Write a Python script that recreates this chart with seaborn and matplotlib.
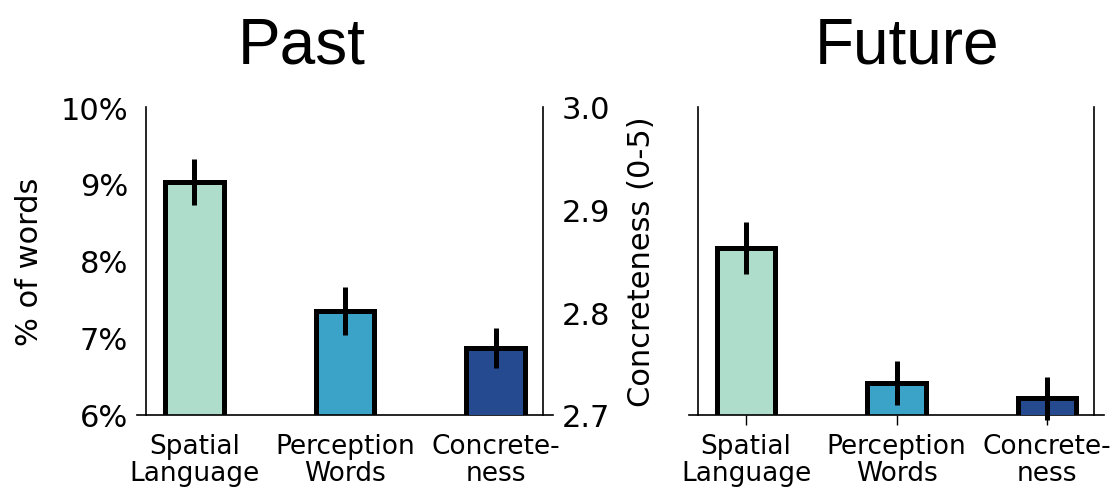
import matplotlib
matplotlib.use("Agg")
import matplotlib.pyplot as plt
import seaborn as sns
import pandas as pd

# Word-category measures for past- and future-oriented texts
categories = ["Spatial", "Perception", "Concreteness"]
tick_labels = ["Spatial\nLanguage", "Perception\nWords", "Concrete-\nness"]
panel_titles = ["Past", "Future"]

past_values = [9.02, 7.35, 2.765]
past_errors = [0.30, 0.31, 0.0195]
future_values = [8.17, 6.41, 2.716]
future_errors = [0.34, 0.29, 0.021]

pct_ticks = [6, 7, 8, 9, 10]
conc_ticks = [2.7, 2.8, 2.9, 3.0]

colors = {"Spatial": "#AEDDCC", "Perception": "#3BA3C7", "Concreteness": "#254A8F"}

sns.set_style("white")
plt.rcParams["font.family"] = ["DejaVu Sans"]
plt.rcParams["text.color"] = "black"
plt.rcParams["axes.labelcolor"] = "black"
plt.rcParams["xtick.color"] = "black"
plt.rcParams["ytick.color"] = "black"

fig = plt.figure(figsize=(11.15, 4.89), dpi=100)
axes_rects = [
    [137 / 1115, 1 - 415.7 / 489, 416 / 1115, 307.7 / 489],
    [689 / 1115, 1 - 415.7 / 489, 415 / 1115, 307.7 / 489],
]
title_x = [302 / 1115, 907 / 1115]

BAR_W = 0.39
EDGE_LW = 3.6
ERR_LW = 3.6
SPINE_LW = 1.2


def draw_panel(rect, values, errors, show_labels, show_xticks):
    ax = fig.add_axes(rect)
    ax2 = ax.twinx()

    pct = pd.DataFrame({"cat": categories[:2], "val": values[:2]})
    conc = pd.DataFrame({"cat": categories[2:], "val": values[2:]})

    sns.barplot(data=pct, x="cat", y="val", hue="cat", order=categories,
                palette=colors, saturation=1, dodge=False, legend=False,
                width=BAR_W, edgecolor="black", linewidth=EDGE_LW,
                errorbar=None, ax=ax)
    sns.barplot(data=conc, x="cat", y="val", hue="cat", order=categories,
                palette=colors, saturation=1, dodge=False, legend=False,
                width=BAR_W, edgecolor="black", linewidth=EDGE_LW,
                errorbar=None, ax=ax2)

    eb1 = ax.errorbar([0, 1], values[:2], yerr=errors[:2], fmt="none",
                      ecolor="black", elinewidth=ERR_LW, capsize=0, zorder=5)
    eb2 = ax2.errorbar([2], values[2:], yerr=errors[2:], fmt="none",
                       ecolor="black", elinewidth=ERR_LW, capsize=0, zorder=5)
    for eb in (eb1, eb2):
        for art in eb.get_children():
            art.set_clip_on(False)

    ax.set_ylim(6, 10)
    ax2.set_ylim(2.7, 3.0)
    ax.set_xlim(-0.38, 2.38)

    # spines
    for a in (ax, ax2):
        a.spines["top"].set_visible(False)
    ax.spines["right"].set_visible(False)
    ax2.spines["left"].set_visible(False)
    ax2.spines["bottom"].set_visible(False)
    ax.spines["left"].set_position(("axes", 0.022))
    ax2.spines["right"].set_position(("axes", 0.977))
    for sp in (ax.spines["left"], ax.spines["bottom"], ax2.spines["right"]):
        sp.set_linewidth(SPINE_LW)
        sp.set_color("black")

    ax.set_xticks(range(len(categories)))
    ax.set_xticklabels(tick_labels, fontsize=19, linespacing=1.05)
    ax.set_xlabel("")
    if show_xticks:
        ax.tick_params(axis="x", length=7, width=1.0, color="black",
                       direction="out", bottom=True, pad=6)
    else:
        ax.tick_params(axis="x", length=0, pad=13)

    ax.set_yticks(pct_ticks)
    ax2.set_yticks(conc_ticks)
    if show_labels:
        ax.set_yticklabels([f"{t}%" for t in pct_ticks], fontsize=22)
        ax2.set_yticklabels([f"{t:.1f}" for t in conc_ticks], fontsize=22)
        ax.set_ylabel("% of words", fontsize=22, labelpad=12)
        ax2.set_ylabel("Concreteness (0-5)", fontsize=22, labelpad=12)
    else:
        ax.set_yticklabels([])
        ax2.set_yticklabels([])
        ax.set_ylabel("")
        ax2.set_ylabel("")
    ax.tick_params(axis="y", length=0, pad=13)
    ax2.tick_params(axis="y", length=0, pad=13)
    ax2.set_xlabel("")
    return ax, ax2


draw_panel(axes_rects[0], past_values, past_errors, True, False)
draw_panel(axes_rects[1], future_values, future_errors, False, True)

for x, title in zip(title_x, panel_titles):
    fig.text(x, 1 - 63 / 489, title, ha="center", va="baseline",
             fontsize=46, family=["Liberation Sans", "DejaVu Sans"])

fig.savefig("out.png", dpi=100)
